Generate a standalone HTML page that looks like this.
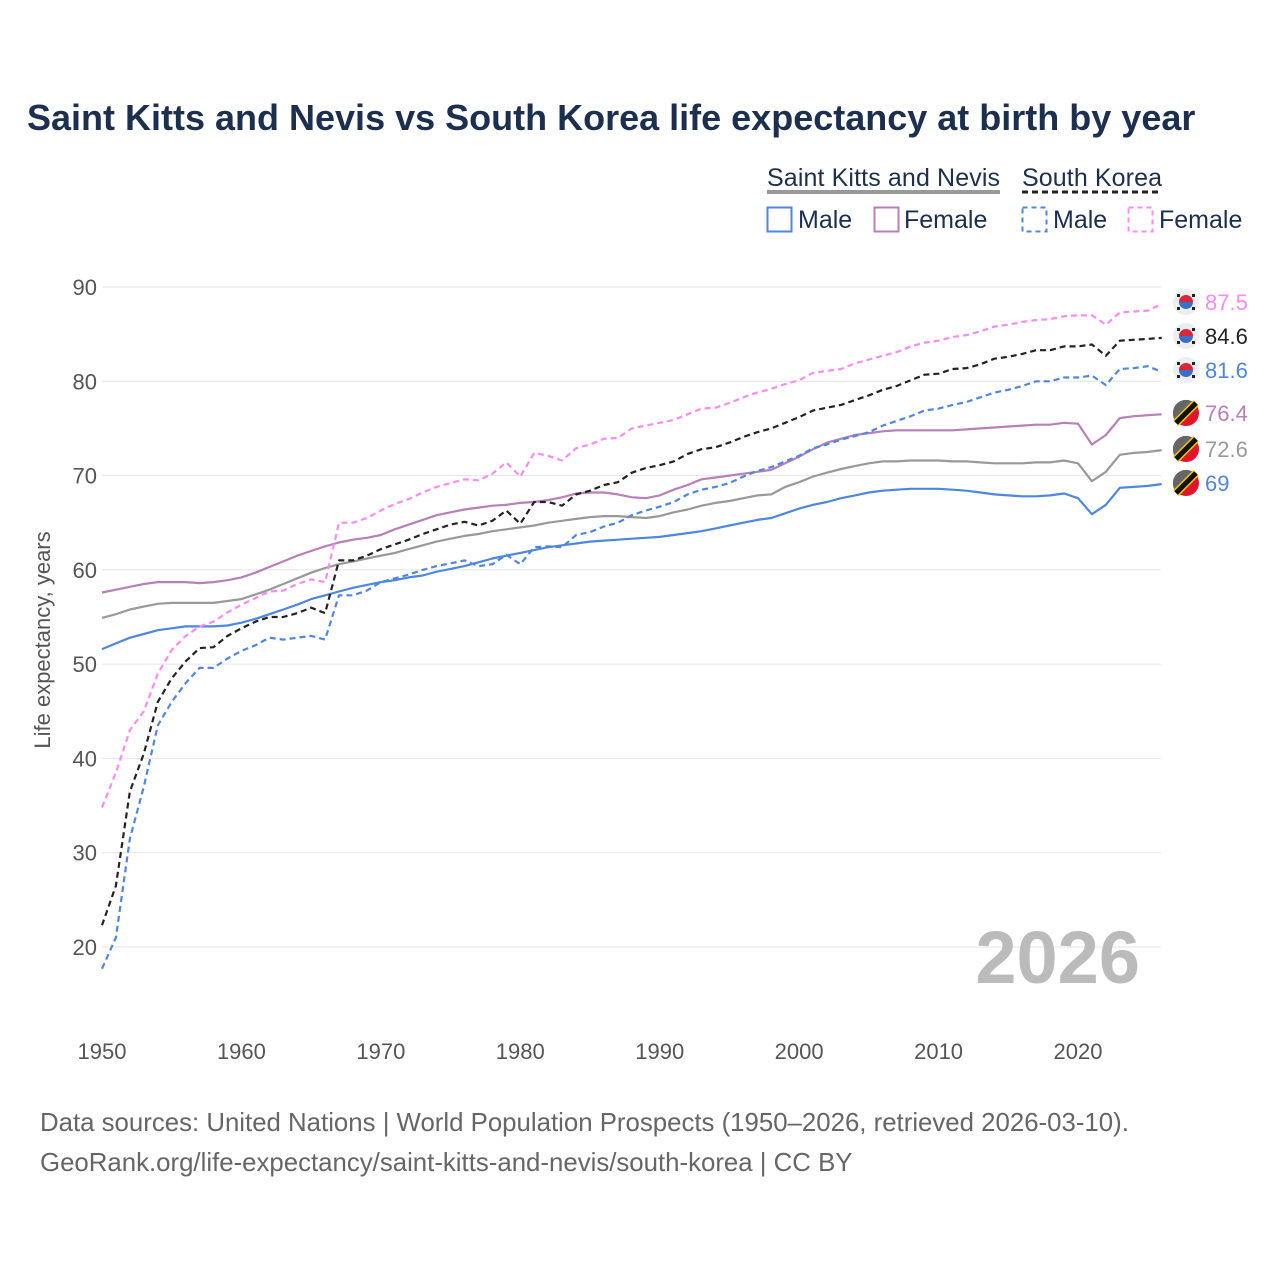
<!DOCTYPE html>
<html><head><meta charset="utf-8"><style>
body{margin:0;background:#fff;width:1280px;height:1280px;overflow:hidden;font-family:"Liberation Sans",sans-serif}
</style></head><body>
<svg id="chart" width="1280" height="1280" xmlns="http://www.w3.org/2000/svg" font-family="Liberation Sans, sans-serif">
<text x="27" y="130" font-size="36" font-weight="bold" fill="#1c2f4f">Saint Kitts and Nevis vs South Korea life expectancy at birth by year</text>
<g font-size="25" fill="#1c2f4f">
<text x="767" y="186" textLength="233">Saint Kitts and Nevis</text>
<line x1="767" y1="192" x2="1000" y2="192" stroke="#999" stroke-width="4"/>
<text x="1022" y="186" textLength="140">South Korea</text>
<line x1="1022" y1="192" x2="1162" y2="192" stroke="#222" stroke-width="3" stroke-dasharray="6,4"/>
<rect x="767.5" y="207.5" width="24" height="24" fill="none" stroke="#4e86e0" stroke-width="2"/>
<text x="798" y="228">Male</text>
<rect x="874.5" y="207.5" width="24" height="24" fill="none" stroke="#b97fb9" stroke-width="2"/>
<text x="904" y="228">Female</text>
<rect x="1022.5" y="207.5" width="24" height="24" fill="none" stroke="#4e86e0" stroke-width="2" stroke-dasharray="5,4"/>
<text x="1053" y="228">Male</text>
<rect x="1128.5" y="207.5" width="24" height="24" fill="none" stroke="#f98cf2" stroke-width="2" stroke-dasharray="5,4"/>
<text x="1159" y="228">Female</text>
</g>
<g id="grid"></g>
<text transform="translate(50,640) rotate(-90)" text-anchor="middle" font-size="22" fill="#555">Life expectancy, years</text>
<text x="1140" y="983" text-anchor="end" font-size="74" font-weight="bold" fill="#bbb">2026</text>
<g id="series"></g>
<g id="endlabels"></g>
<text x="40" y="1131" font-size="25.8" fill="#666">Data sources: United Nations | World Population Prospects (1950–2026, retrieved 2026-03-10).</text>
<text x="40" y="1171" font-size="25.8" fill="#666">GeoRank.org/life-expectancy/saint-kitts-and-nevis/south-korea | CC BY</text>
</svg>
<script>
const startYear = 1950;
const xTicks = [1950,1960,1970,1980,1990,2000,2010,2020];
const yTicks = [20,30,40,50,60,70,80,90];
const kFemale = [34.8,38.5,43,45,49,51.5,53,54,54.5,55.5,56.3,57,57.7,57.8,58.5,59,58.7,65,65,65.5,66.3,67,67.5,68.2,68.8,69.2,69.6,69.5,70.2,71.4,69.9,72.4,72.1,71.6,72.9,73.3,73.9,74,75,75.3,75.6,75.9,76.5,77.1,77.2,77.7,78.3,78.8,79.2,79.7,80.1,80.9,81.1,81.3,81.9,82.3,82.7,83.1,83.7,84.1,84.3,84.7,84.9,85.3,85.8,86,86.3,86.5,86.6,86.9,87,87,86,87.3,87.4,87.5,88.2];
const kTotal = [22.3,26.5,36.5,40.5,46,48.5,50.3,51.7,51.8,53,53.8,54.5,55,55,55.4,56,55.4,61,61,61.5,62.2,62.7,63.2,63.8,64.3,64.8,65.1,64.7,65.2,66.3,64.9,67.2,67.2,66.8,68,68.4,69,69.3,70.3,70.8,71.1,71.5,72.3,72.8,73,73.5,74.1,74.6,75,75.6,76.2,76.9,77.2,77.5,78,78.5,79.1,79.5,80.1,80.7,80.8,81.3,81.4,81.8,82.4,82.6,82.9,83.3,83.3,83.7,83.7,83.9,82.7,84.3,84.4,84.5,84.6];
const kMale = [17.7,21,31.5,37,43.5,46,48,49.6,49.6,50.6,51.4,52,52.8,52.6,52.8,53,52.6,57.3,57.3,57.8,58.7,59.1,59.5,60,60.4,60.7,61,60.4,60.6,61.6,60.6,62.4,62.5,62.4,63.7,64,64.6,65,65.8,66.3,66.7,67.2,68,68.5,68.8,69.2,69.9,70.5,70.9,71.5,72.1,72.9,73.3,73.8,74.2,74.6,75.3,75.8,76.3,76.9,77.1,77.5,77.8,78.3,78.8,79.1,79.5,80,80,80.4,80.4,80.6,79.6,81.3,81.4,81.6,81.0];
const sFemale = [57.6,57.9,58.2,58.5,58.7,58.7,58.7,58.6,58.7,58.9,59.2,59.7,60.3,60.9,61.5,62,62.5,62.9,63.2,63.4,63.7,64.3,64.8,65.3,65.8,66.1,66.4,66.6,66.8,66.9,67.1,67.2,67.4,67.7,68.1,68.2,68.2,68,67.7,67.6,67.9,68.5,69,69.6,69.8,70,70.2,70.4,70.6,71.3,72,72.8,73.5,73.9,74.3,74.5,74.7,74.8,74.8,74.8,74.8,74.8,74.9,75,75.1,75.2,75.3,75.4,75.4,75.6,75.5,73.3,74.3,76.1,76.3,76.4,76.5];
const sTotal = [54.9,55.3,55.8,56.1,56.4,56.5,56.5,56.5,56.5,56.7,56.9,57.4,57.9,58.5,59.1,59.7,60.2,60.6,60.9,61.2,61.5,61.8,62.2,62.6,63,63.3,63.6,63.8,64.1,64.3,64.5,64.7,65,65.2,65.4,65.6,65.7,65.7,65.6,65.5,65.7,66.1,66.4,66.8,67.1,67.3,67.6,67.9,68,68.8,69.3,69.9,70.3,70.7,71,71.3,71.5,71.5,71.6,71.6,71.6,71.5,71.5,71.4,71.3,71.3,71.3,71.4,71.4,71.6,71.3,69.4,70.4,72.2,72.4,72.5,72.7];
const sMale = [51.6,52.2,52.8,53.2,53.6,53.8,54,54,54,54.1,54.4,54.8,55.3,55.8,56.3,56.9,57.3,57.7,58.1,58.4,58.7,58.9,59.2,59.4,59.8,60.1,60.4,60.8,61.2,61.5,61.8,62.1,62.4,62.6,62.8,63,63.1,63.2,63.3,63.4,63.5,63.7,63.9,64.1,64.4,64.7,65,65.3,65.5,66,66.5,66.9,67.2,67.6,67.9,68.2,68.4,68.5,68.6,68.6,68.6,68.5,68.4,68.2,68,67.9,67.8,67.8,67.9,68.1,67.6,65.9,66.9,68.7,68.8,68.9,69.1];
const endLabels = ["87.5","84.6","81.6","76.4","72.6","69"];

const NS="http://www.w3.org/2000/svg";
function x(yr){return 102+(yr-1950)*(976/70);}
function y(v){return 947-(v-20)*(660/70);}
function mk(tag,attrs,parent){const e=document.createElementNS(NS,tag);for(const k in attrs)e.setAttribute(k,attrs[k]);parent.appendChild(e);return e;}
const grid=document.getElementById('grid');
yTicks.forEach(t=>{
  const l=mk('line',{x1:102,x2:1161,y1:y(t),y2:y(t),stroke:'#e4e4e4','stroke-width':1},grid);
  
  
  const tx=mk('text',{x:97,y:y(t)+8,'text-anchor':'end','font-size':22,fill:'#555'},grid);
  tx.textContent=t;
  
  
});
xTicks.forEach(t=>{
  const tx=mk('text',{x:x(t),y:1059,'text-anchor':'middle','font-size':22,fill:'#555'},grid);
  tx.textContent=t;
  
  
});
const sg=document.getElementById('series');
const defs=[
 [sMale,'#4e86e0',null,'skn-male-line'],
 [sTotal,'#999',null,'skn-total-line'],
 [sFemale,'#b97fb9',null,'skn-female-line'],
 [kMale,'#4e86e0','6,4','korea-male-line'],
 [kTotal,'#222','6,4','korea-total-line'],
 [kFemale,'#f98cf2','6,4','korea-female-line']];
defs.forEach(d=>{
  const pts=d[0].map((v,i)=>x(startYear+i).toFixed(1)+','+y(v).toFixed(1)).join(' ');
  const p=mk('polyline',{points:pts,fill:'none',stroke:d[1],'stroke-width':2.2,'stroke-linejoin':'round'},sg);
  if(d[2])p.setAttribute('stroke-dasharray',d[2]);
  
  
});
const eg=document.getElementById('endlabels');
const labY=[302,336,370,413,449,483];
const labC=['#f98cf2','#222','#4e86e0','#b97fb9','#999','#4e86e0'];
endLabels.forEach((s,i)=>{
  const g=mk('g',{},eg);
  
  
  const cy=labY[i];
  if(i<3){
    mk('circle',{cx:1186,cy:cy,r:13,fill:'#eee'},g);
    mk('path',{d:`M1179,${cy} a7,7 0 0 1 14,0 z`,fill:'#d8263a'},g);
    mk('path',{d:`M1179,${cy} a7,7 0 0 0 14,0 z`,fill:'#3a6fc9'},g);
    [[-9,-8],[6,-8],[-9,5],[6,5]].forEach(o=>mk('rect',{x:1186+o[0],y:cy+o[1],width:3,height:3,fill:'#222'},g));
  } else {
    mk('circle',{cx:1186,cy:cy,r:13,fill:'#e0142d'},g);
    mk('path',{d:`M1173,${cy} a13,13 0 0 1 22,-9.5 L1176,${cy+9} a13,13 0 0 1 -3,-9z`,fill:'#666'},g);
    mk('line',{x1:1176,y1:cy+10,x2:1196,y2:cy-10,stroke:'#f5c400','stroke-width':8},g);
    mk('line',{x1:1176,y1:cy+10,x2:1196,y2:cy-10,stroke:'#111','stroke-width':5},g);
  }
  const t=mk('text',{x:1205,y:cy+8,'font-size':22,fill:labC[i]},g);
  t.textContent=s;
});
</script>
</body></html>
